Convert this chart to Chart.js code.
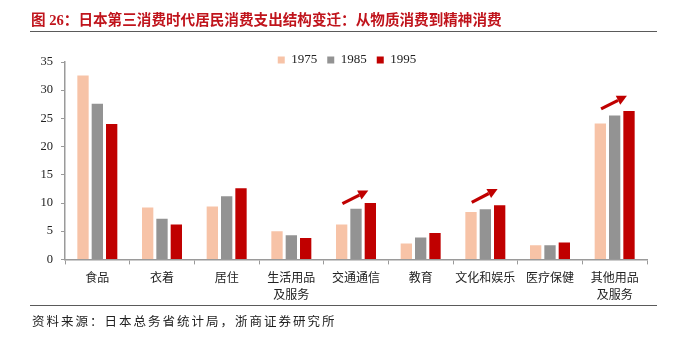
<!DOCTYPE html>
<html>
<head>
<meta charset="utf-8">
<script src="https://cdn.jsdelivr.net/npm/chart.js@4.4.0/dist/chart.umd.min.js"></script>
<style>
  html, body { margin: 0; padding: 0; background: #fff; }
  #wrap { position: relative; width: 679px; height: 344px; overflow: hidden; }
  #title {
    position: absolute; left: 31px; top: 8px;
    font: bold 14.6px "Liberation Serif", "Noto Sans CJK SC", sans-serif;
    color: #C0141C; white-space: nowrap;
  }
  .rule { position: absolute; left: 30px; width: 627px; height: 0; border-top: 1.5px solid #5a5a5a; }
  #source {
    position: absolute; left: 32px; top: 311px;
    font: 12.5px "Noto Sans CJK SC", sans-serif; letter-spacing: 2px;
    color: #222; white-space: nowrap;
  }
  #chart { position: absolute; left: 0; top: 0; }
</style>
</head>
<body>
<div id="wrap">
  <canvas id="chart" width="679" height="344"></canvas>
  <div id="title">图 26：日本第三消费时代居民消费支出结构变迁：从物质消费到精神消费</div>
  <div class="rule" style="top:31px"></div>
  <div class="rule" style="top:305px"></div>
  <div id="source">资料来源：日本总务省统计局，浙商证券研究所</div>
</div>
<script>
// categories and shares of household spending (%)
const categories = ["食品", "衣着", "居住", ["生活用品", "及服务"], "交通通信", "教育", "文化和娱乐", "医疗保健", ["其他用品", "及服务"]];
const years = ["1975", "1985", "1995"];
const values1975 = [32.6, 9.2, 9.4, 5.0, 6.2, 2.8, 8.4, 2.5, 24.1];
const values1985 = [27.6, 7.2, 11.2, 4.3, 9.0, 3.9, 8.9, 2.5, 25.5];
const values1995 = [24.0, 6.2, 12.6, 3.8, 10.0, 4.7, 9.6, 3.0, 26.3];
const yTicks = [0, 5, 10, 15, 20, 25, 30, 35];

// trend arrows: category index, start value, end value
const arrows = [
  { cat: 4, from: 9.9, to: 12.2 },
  { cat: 6, from: 10.1, to: 12.5 },
  { cat: 8, from: 26.7, to: 29.0 }
];

const colors = ["#F7C3A7", "#939393", "#C00000"];
const axisColor = "#9a9a9a";

const arrowPlugin = {
  id: "arrows",
  afterDatasetsDraw(chart) {
    const { ctx, scales: { x, y } } = chart;
    const catW = x.getPixelForValue(1) - x.getPixelForValue(0);
    ctx.save();
    ctx.strokeStyle = "#C00000";
    ctx.fillStyle = "#C00000";
    ctx.lineWidth = 3.2;
    arrows.forEach(a => {
      const cx = x.getPixelForValue(a.cat);
      const x0 = cx - catW * 0.21, x1 = cx + catW * 0.19;
      const y0 = y.getPixelForValue(a.from), y1 = y.getPixelForValue(a.to);
      const ang = Math.atan2(y1 - y0, x1 - x0);
      const head = 10, hw = 5;
      const bx = x1 - head * Math.cos(ang), by = y1 - head * Math.sin(ang);
      ctx.beginPath();
      ctx.moveTo(x0, y0);
      ctx.lineTo(bx, by);
      ctx.stroke();
      ctx.beginPath();
      ctx.moveTo(x1, y1);
      ctx.lineTo(bx + hw * Math.sin(ang), by - hw * Math.cos(ang));
      ctx.lineTo(bx - hw * Math.sin(ang), by + hw * Math.cos(ang));
      ctx.closePath();
      ctx.fill();
    });
    ctx.restore();
  }
};

// the legend sits inside the top of the plot, a bit left of centre
const legendPlace = {
  id: "legendPlace",
  afterLayout(chart) {
    const lg = chart.legend, area = chart.chartArea;
    const lab = lg.options.labels;
    const itemH = Math.max(lab.font.size, lab.boxHeight);
    const cy = lg.top + lab.padding + itemH / 2;
    const cx = (lg.left + lg.right) / 2;
    const dy = (area.top - 2) - cy;
    const dx = (area.left + area.right) / 2 - 9 - cx;
    lg.top += dy; lg.bottom += dy;
    lg.left += dx; lg.right += dx;
  }
};

const series = [values1975, values1985, values1995];

new Chart(document.getElementById("chart"), {
  type: "bar",
  data: {
    labels: categories,
    datasets: years.map((yr, i) => ({
      label: yr,
      data: series[i],
      backgroundColor: colors[i],
      borderWidth: 0,
      categoryPercentage: 0.665,
      barPercentage: 0.79
    }))
  },
  options: {
    responsive: false,
    animation: false,
    layout: { padding: { left: 25, right: 32, top: 29, bottom: 36 } },
    plugins: {
      legend: {
        position: "top",
        labels: {
          boxWidth: 7,
          boxHeight: 7,
          padding: 10,
          color: "#222",
          font: { family: "'Liberation Serif', serif", size: 13 }
        }
      },
      tooltip: { enabled: false }
    },
    scales: {
      x: {
        border: { color: axisColor, width: 1.5 },
        grid: { display: true, drawOnChartArea: false, color: axisColor, tickLength: 5, offset: true },
        ticks: {
          color: "#222",
          padding: 5,
          maxRotation: 0,
          autoSkip: false,
          font: { family: "'Noto Sans CJK SC', sans-serif", size: 12, lineHeight: 1.4 }
        }
      },
      y: {
        min: 0,
        max: 35,
        afterFit(scale) { scale.width = 40; },
        afterBuildTicks(scale) { scale.ticks = yTicks.map(v => ({ value: v })); },
        border: { color: axisColor, width: 1.5 },
        grid: { display: true, drawOnChartArea: false, color: axisColor, tickLength: 4 },
        ticks: {
          color: "#222",
          padding: 8,
          font: { family: "'Liberation Serif', serif", size: 12.5 }
        }
      }
    }
  },
  plugins: [arrowPlugin, legendPlace]
});
</script>
</body>
</html>
